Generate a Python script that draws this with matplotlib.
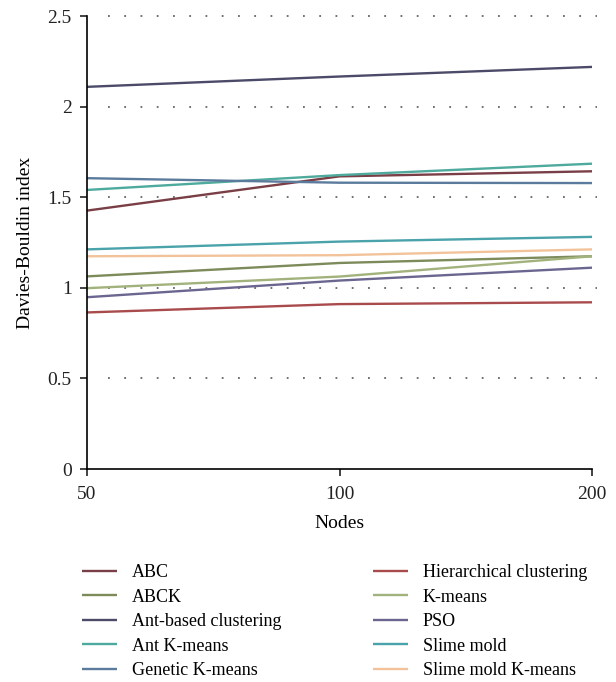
import matplotlib
matplotlib.use("Agg")
import matplotlib.pyplot as plt
from matplotlib.ticker import FixedLocator, NullLocator

# valores
nodos = [50, 100, 200]
abc = [1.426, 1.615, 1.643]
abck = [1.063, 1.137, 1.174]
ant_based = [2.109, 2.166, 2.219]
ant_kmeans = [1.540, 1.622, 1.685]
genetic_kmeans = [1.605, 1.580, 1.578]
hierarchical = [0.864, 0.910, 0.920]
kmeans = [0.998, 1.062, 1.174]
pso = [0.948, 1.040, 1.111]
slime_mold = [1.212, 1.255, 1.281]
slime_mold_kmeans = [1.174, 1.180, 1.212]

nombres = ["ABC", "ABCK", "Ant-based clustering", "Ant K-means", "Genetic K-means",
           "Hierarchical clustering", "K-means", "PSO", "Slime mold", "Slime mold K-means"]
series = [abc, abck, ant_based, ant_kmeans, genetic_kmeans,
          hierarchical, kmeans, pso, slime_mold, slime_mold_kmeans]
colores = ["#7a3e46", "#7d8b5b", "#4b4a68", "#4eaa9c", "#5b7b9d",
           "#a94b4c", "#a2b27c", "#6a6690", "#4aa2ab", "#f2c39a"]

plt.rcParams['font.family'] = ['Liberation Serif', 'DejaVu Serif']

fig = plt.figure(figsize=(6.16, 6.82), dpi=100)
ax = fig.add_axes([87 / 616, 1 - 469 / 682, (592 - 87) / 616, (469 - 16) / 682])

for nombre, valores, color in zip(nombres, series, colores):
    ax.plot(nodos, valores, color=color, lw=1.7, label=nombre, solid_capstyle='butt')

ax.set_xscale('log', base=2)
ax.set_xlim(50, 200)
ax.xaxis.set_major_locator(FixedLocator(nodos))
ax.xaxis.set_minor_locator(NullLocator())
ax.set_xticklabels([str(n) for n in nodos])
ax.set_ylim(0, 2.5)
ax.set_yticks([0, 0.5, 1, 1.5, 2, 2.5])
ax.set_yticklabels(["0", "0.5", "1", "1.5", "2", "2.5"])

# lineas punteadas de referencia
for y in [0.5, 1, 1.5, 2, 2.5]:
    ax.plot([53, 203], [y, y], color="#666666", lw=1.3, ls=(0, (1, 8)), zorder=0, clip_on=False)

for lado in ["top", "right"]:
    ax.spines[lado].set_visible(False)
ax.spines["left"].set_linewidth(1.2)
ax.spines["bottom"].set_linewidth(1.2)
ax.tick_params(axis='both', direction='out', length=5, width=1.2, labelsize=14, colors="#222222")
ax.tick_params(axis='x', pad=7)
ax.tick_params(axis='y', pad=6)
ax.set_xlabel("Nodes", fontsize=14, labelpad=9)
ax.set_ylabel("Davies-Bouldin index", fontsize=14, labelpad=10)

fig.legend(loc='upper left', bbox_to_anchor=(82 / 616, 1 - 564 / 682), ncol=2, frameon=False,
           fontsize=13, handlelength=1.95, handletextpad=0.8, columnspacing=5.1,
           labelspacing=0.42, borderpad=0, borderaxespad=0)

fig.savefig("out.png", dpi=100)
